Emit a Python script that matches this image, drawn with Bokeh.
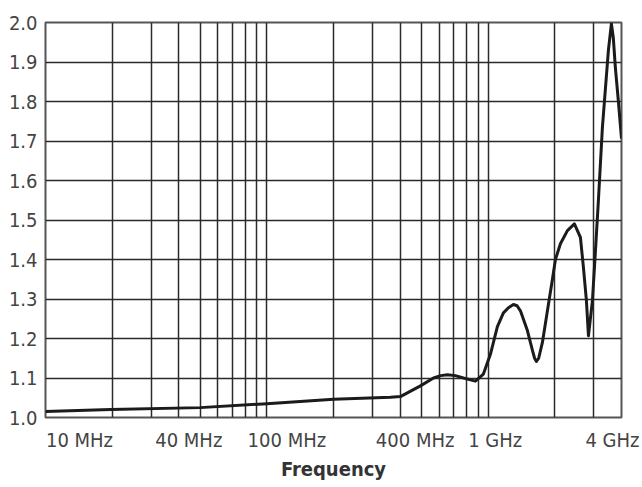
from bokeh.plotting import figure
from bokeh.models import Range1d, FixedTicker, Label, PrintfTickFormatter
from bokeh.embed import file_html
from bokeh.resources import INLINE

# ---- data ----
freq_mhz = [10, 19.7, 50, 100, 200, 362, 401, 494, 566, 610, 654, 710, 773, 875, 951,
            1023, 1100, 1171, 1234, 1299, 1350, 1398, 1503, 1584, 1620, 1651, 1690, 1757,
            1851, 1950, 2012, 2119, 2279, 2451, 2609, 2692, 2777, 2836, 2956, 3049, 3146,
            3279, 3491, 3601, 3675, 3753, 3873, 4000]
vswr = [1.015, 1.02, 1.025, 1.035, 1.046, 1.051, 1.053, 1.08, 1.10, 1.106, 1.108, 1.106,
        1.10, 1.092, 1.11, 1.16, 1.23, 1.265, 1.278, 1.286, 1.283, 1.27, 1.22, 1.17, 1.15,
        1.142, 1.15, 1.19, 1.27, 1.35, 1.40, 1.44, 1.473, 1.49, 1.456, 1.38, 1.296, 1.207,
        1.296, 1.42, 1.55, 1.734, 1.93, 1.997, 1.96, 1.886, 1.80, 1.706]

x_tick_mhz = [10, 40, 100, 400, 1000, 4000]
x_tick_labels = ["10 MHz", "40 MHz", "100 MHz", "400 MHz", "1 GHz", "4 GHz"]
y_ticks = [1.0, 1.1, 1.2, 1.3, 1.4, 1.5, 1.6, 1.7, 1.8, 1.9, 2.0]
grid_mhz = [m * 10 ** e for e in (1, 2, 3) for m in range(1, 10) if m * 10 ** e <= 4000]

# label placement styles (pixel nudges)
label_dx = [34, 10, 20, 15, 7, -9]

FONT = "DejaVu Sans Condensed"

p = figure(x_axis_type="log", x_range=Range1d(10, 4000), y_range=Range1d(1.0, 2.0),
           frame_width=576, frame_height=395,
           min_border_left=45, min_border_right=21, min_border_top=22, min_border_bottom=40,
           toolbar_location=None, output_backend="svg")
p.background_fill_color = "white"
p.border_fill_color = "white"
p.outline_line_color = "#555555"
p.outline_line_width = 2

# grids
p.xgrid.ticker = FixedTicker(ticks=grid_mhz)
p.ygrid.ticker = FixedTicker(ticks=y_ticks)
for g in (p.xgrid, p.ygrid):
    g.grid_line_color = "#2a2a2a"
    g.grid_line_width = 1.5

# y axis
ya = p.yaxis[0]
ya.ticker = FixedTicker(ticks=y_ticks)
ya.formatter = PrintfTickFormatter(format="%.1f")
ya.axis_line_color = None
ya.major_tick_out = 0
ya.major_tick_in = 0
ya.minor_tick_out = 0
ya.minor_tick_in = 0
ya.major_label_standoff = 8
ya.major_label_text_font = FONT
ya.major_label_text_font_size = "20px"
ya.major_label_text_color = "#444444"

# x axis (tick labels placed as labels in the bottom panel)
xa = p.xaxis[0]
xa.ticker = FixedTicker(ticks=[])
xa.axis_line_color = None
xa.major_tick_out = 0
xa.major_tick_in = 0
xa.minor_tick_out = 0
xa.minor_tick_in = 0
xa.major_label_standoff = 0
xa.axis_label = "Frequency"
xa.axis_label_standoff = 39
xa.axis_label_text_font = FONT
xa.axis_label_text_font_style = "bold"
xa.axis_label_text_font_size = "20px"
xa.axis_label_text_color = "#333333"

for xv, txt, dx in zip(x_tick_mhz, x_tick_labels, label_dx):
    p.add_layout(Label(x=xv, y=y_ticks[0], text=txt, x_offset=dx, y_offset=-10,
                       text_align="center", text_baseline="top", text_font=FONT,
                       text_font_size="20px", text_color="#444444"), "below")

p.line(freq_mhz, vswr, line_width=3, line_color="#1b1b1b", line_join="round")

open("out.html", "w").write(file_html(p, INLINE))
